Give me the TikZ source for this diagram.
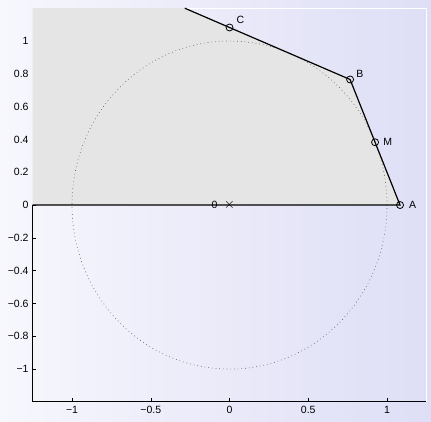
\documentclass[tikz,border=0pt]{standalone}
\usepackage{fontspec}
\setmainfont{Liberation Sans}
\usetikzlibrary{positioning}

\definecolor{bgleft}{RGB}{247,247,253}
\definecolor{bgright}{RGB}{222,222,246}
\definecolor{regiongray}{RGB}{229,229,229}
\definecolor{dotgray}{RGB}{90,90,90}

\tikzset{
  ptmark/.style={draw, circle, inner sep=0pt, minimum size=7pt, line width=0.8pt},
  ptlabel/.style={inner sep=3pt},
}

\begin{document}
\begin{tikzpicture}[x=157.5pt, y=164pt, font=\fontsize{10.5}{12}\selectfont]
\path[use as bounding box, left color=bgleft, right color=bgright] (-1.457,-1.317) rectangle (1.279,1.25);

% points of the polygon
\coordinate (O) at (0,0);
\coordinate (A) at (1.0824,0);
\coordinate (M) at (0.9239,0.3827);
\coordinate (B) at (0.7654,0.7654);
\coordinate (C) at (0,1.0824);
\coordinate (E) at (-0.2839,1.2);
\coordinate (L) at (-1.25,0);

% axes and ticks
\draw[line width=0.9pt] (L) -- (-1.25,-1.2) -- (1.25,-1.2);
\draw[white, line width=0.9pt] (-1.25,1.2) -- (1.25,1.2) -- (1.25,-1.2);
\foreach \x/\t in {-1/−1, -0.5/−0.5, 0/0, 0.5/0.5, 1/1}
  \draw (\x,-1.2) -- ++(0,3.5pt) node[pos=0, below=1pt] {\t};
\foreach \y/\t in {1/1, 0.8/0.8, 0.6/0.6, 0.4/0.4, 0.2/0.2, 0/0, -0.2/−0.2, -0.4/−0.4, -0.6/−0.6, -0.8/−0.8, -1/−1}
  \draw (-1.25,\y) -- ++(3.5pt,0) node[pos=0, left=0.5pt] {\t};

% region and boundary
\fill[regiongray] (L) -- (A) -- (B) -- (C) -- (E) -- (-1.25,1.2) -- cycle;
\draw[dotgray, line width=0.6pt, dash pattern=on 0.7pt off 3pt] (O) circle[radius=1];
\draw[line width=1.2pt] (L) -- (A) -- (B) -- (C) -- (E);

% markers
\foreach \p in {A, M, B, C}
  \node[ptmark] at (\p) {};
\node[font=\fontsize{14}{14}\selectfont, inner sep=0pt] (cross) at (O) {$\times$};

% labels
\node[ptlabel] (labA) [right=6pt of A] {A};
\node[ptlabel] (labM) [right=5pt of M] {M};
\node[ptlabel] (labB) [above right=-1pt and 3pt of B] {B};
\node[ptlabel] (labC) [above right=1pt and 4pt of C] {C};
\node[ptlabel] (labO) [left=3pt of cross] {0};
\end{tikzpicture}
\end{document}
